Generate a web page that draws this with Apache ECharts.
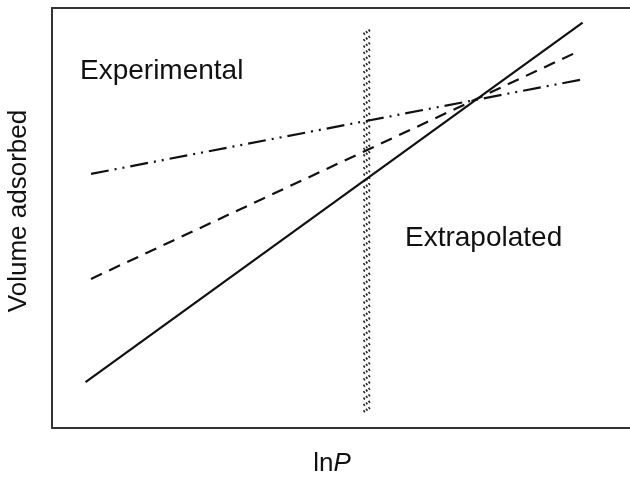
<!DOCTYPE html>
<html>
<head>
<meta charset="utf-8">
<script src="https://cdn.jsdelivr.net/npm/echarts@6/dist/echarts.min.js"></script>
<style>
html,body{margin:0;padding:0;background:#fff;}
#chart{width:630px;height:477px;}
</style>
</head>
<body>
<div id="chart"></div>
<script>
// Data (axis units 0-100, arbitrary)
var solidLine = [[5.8, 10.9], [91.8, 96.5]];
var dashedLine = [[6.75, 35.5], [90.5, 89.3]];
var dashDotLine = [[6.75, 60.5], [91.35, 82.9]];
var boundary = [[54.5, 4.3, 94.3]]; // x, yStart, yEnd of hatched boundary
var xAxisName = 'ln';
var xAxisNameItalic = 'P';
var yAxisName = 'Volume adsorbed';
var labelExperimental = 'Experimental';
var labelExtrapolated = 'Extrapolated';

var chart = echarts.init(document.getElementById('chart'));
var FONT = 'Liberation Sans, Arial, Helvetica, sans-serif';

chart.setOption({
  animation: false,
  backgroundColor: '#fff',
  grid: {left: 52, top: 8, right: 0, bottom: 49, containLabel: false, outerBoundsMode: 'none'},
  xAxis: [{
    type: 'value', min: 0, max: 100, position: 'bottom',
    axisLine: {show: true, onZero: false, lineStyle: {color: '#333', width: 2}},
    axisTick: {show: false}, axisLabel: {show: false}, splitLine: {show: false},
    name: '{a|' + xAxisName + '}{b|' + xAxisNameItalic + '}',
    nameLocation: 'middle', nameGap: 23,
    nameTextStyle: {
      verticalAlign: 'top',
      padding: [0, 18, 0, 0],
      rich: {
        a: {fontFamily: FONT, fontSize: 26, color: '#111'},
        b: {fontFamily: FONT, fontSize: 26, fontStyle: 'italic', color: '#111'}
      }
    }
  }, {
    type: 'value', min: 0, max: 100, position: 'top',
    axisLine: {show: true, onZero: false, lineStyle: {color: '#333', width: 2}},
    axisTick: {show: false}, axisLabel: {show: false}, splitLine: {show: false}
  }],
  yAxis: {
    type: 'value', min: 0, max: 100,
    axisLine: {show: true, onZero: false, lineStyle: {color: '#333', width: 2}},
    axisTick: {show: false}, axisLabel: {show: false}, splitLine: {show: false},
    name: yAxisName, nameLocation: 'middle', nameRotate: 90, nameGap: 20,
    nameTextStyle: {fontFamily: FONT, fontSize: 26, color: '#111', verticalAlign: 'bottom', padding: [0, 0, 0, 14]}
  },
  graphic: [
    {type: 'text', left: 80, top: 57, style: {text: labelExperimental, font: '28px ' + FONT, fill: '#111'}},
    {type: 'text', left: 405, top: 224, style: {text: labelExtrapolated, font: '28px ' + FONT, fill: '#111'}}
  ],
  series: [
    {type: 'line', data: solidLine, symbol: 'none', lineStyle: {color: '#111', width: 2.2}},
    {type: 'line', data: dashedLine, symbol: 'none', lineStyle: {color: '#111', width: 2.2, type: [12, 8]}},
    {type: 'line', data: dashDotLine, symbol: 'none', lineStyle: {color: '#111', width: 2.2, type: [18, 6, 2, 6, 2, 6]}},
    {
      type: 'custom', data: boundary,
      renderItem: function (params, api) {
        var top = api.coord([api.value(0), api.value(2)]);
        var bot = api.coord([api.value(0), api.value(1)]);
        var cx = top[0];
        var children = [];
        for (var y = top[1]; y <= bot[1]; y += 6.4) {
          children.push({
            type: 'line',
            shape: {x1: cx - 3.5, y1: y + 2.2, x2: cx + 3.5, y2: y - 2.2},
            style: {stroke: '#222', lineWidth: 2.4, lineDash: [1.6, 1.4]}
          });
        }
        return {type: 'group', children: children};
      }
    }
  ]
});
</script>
</body>
</html>
